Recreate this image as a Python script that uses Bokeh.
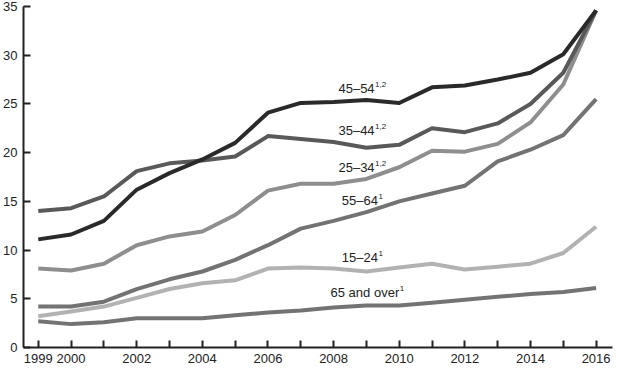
from bokeh.plotting import figure
from bokeh.models import FixedTicker, Range1d
from bokeh.core.properties import value
from bokeh.embed import file_html
from bokeh.resources import INLINE

years = list(range(1999, 2017))

age_15_24 = [3.2, 3.7, 4.2, 5.1, 6.0, 6.6, 6.9, 8.1, 8.2, 8.1, 7.8, 8.2, 8.6, 8.0, 8.3, 8.6, 9.7, 12.4]
age_65_over = [2.7, 2.4, 2.6, 3.0, 3.0, 3.0, 3.3, 3.6, 3.8, 4.1, 4.3, 4.3, 4.6, 4.9, 5.2, 5.5, 5.7, 6.1]
age_55_64 = [4.2, 4.2, 4.7, 6.0, 7.0, 7.8, 9.0, 10.5, 12.2, 13.0, 13.9, 15.0, 15.8, 16.6, 19.1, 20.3, 21.8, 25.5]
age_25_34 = [8.1, 7.9, 8.6, 10.5, 11.4, 11.9, 13.6, 16.1, 16.8, 16.8, 17.3, 18.5, 20.2, 20.1, 20.9, 23.1, 27.0, 34.6]
age_35_44 = [14.0, 14.3, 15.5, 18.1, 18.9, 19.2, 19.6, 21.7, 21.4, 21.1, 20.5, 20.8, 22.5, 22.1, 23.0, 25.0, 28.2, 34.6]
age_45_54 = [11.1, 11.6, 13.0, 16.2, 17.9, 19.3, 21.0, 24.1, 25.1, 25.2, 25.4, 25.1, 26.7, 26.9, 27.5, 28.2, 30.1, 34.6]

series_labels = ["15\u201324", "65 and over", "55\u201364", "25\u201334", "35\u201344", "45\u201354"]
series_notes = ["1", "1", "1", "1,2", "1,2", "1,2"]
series_values = [age_15_24, age_65_over, age_55_64, age_25_34, age_35_44, age_45_54]
colors = ["#b2b2b2", "#737373", "#737373", "#8e8e8e", "#595959", "#2a2a2a"]

label_x = [2009.35, 2010.0, 2009.35, 2009.25, 2009.25, 2009.25]
label_y = [9.2, 5.6, 15.1, 18.5, 22.3, 26.6]

major_years = [1999, 2000, 2002, 2004, 2006, 2008, 2010, 2012, 2014, 2016]
minor_years = [2001, 2003, 2005, 2007, 2009, 2011, 2013, 2015]
y_ticks = [0, 5, 10, 15, 20, 25, 30, 35]

p = figure(width=614, height=365, output_backend="svg", toolbar_location=None,
           x_range=Range1d(1998.55, 2016.5), y_range=Range1d(0, 35),
           min_border_left=20, min_border_right=2, min_border_top=6, min_border_bottom=4)
p.outline_line_color = None
p.xgrid.visible = False
p.ygrid.visible = False
p.background_fill_color = "white"

for vals, col in zip(series_values, colors):
    p.line(years, vals, line_color=col, line_width=4, line_join="round")

p.text(x=label_x, y=label_y, text=series_labels, text_align="right", text_baseline="middle",
       text_font=value("Liberation Sans"), text_font_size="13px", text_color="#222222")
p.text(x=label_x, y=label_y, text=series_notes, text_align="left", text_baseline="middle",
       y_offset=-4, x_offset=0.5,
       text_font=value("Liberation Sans"), text_font_size="8px", text_color="#222222")

for ax in (p.xaxis[0], p.yaxis[0]):
    ax.axis_line_width = 2
    ax.axis_line_color = "#222222"
    ax.major_tick_line_width = 2
    ax.major_tick_line_color = "#222222"
    ax.major_tick_in = 7
    ax.major_tick_out = 0
    ax.major_label_text_font = "Liberation Sans"
    ax.major_label_text_font_size = "13px"
    ax.major_label_text_color = "#222222"

p.xaxis.ticker = FixedTicker(ticks=major_years, minor_ticks=minor_years)
p.xaxis.minor_tick_in = 7
p.xaxis.minor_tick_out = 0
p.xaxis.minor_tick_line_width = 2
p.xaxis.minor_tick_line_color = "#222222"
p.xaxis.major_label_standoff = 6
p.yaxis.ticker = FixedTicker(ticks=y_ticks)
p.yaxis.minor_tick_line_color = None
p.yaxis.major_label_standoff = 6

open("out.html", "w").write(file_html(p, INLINE))
